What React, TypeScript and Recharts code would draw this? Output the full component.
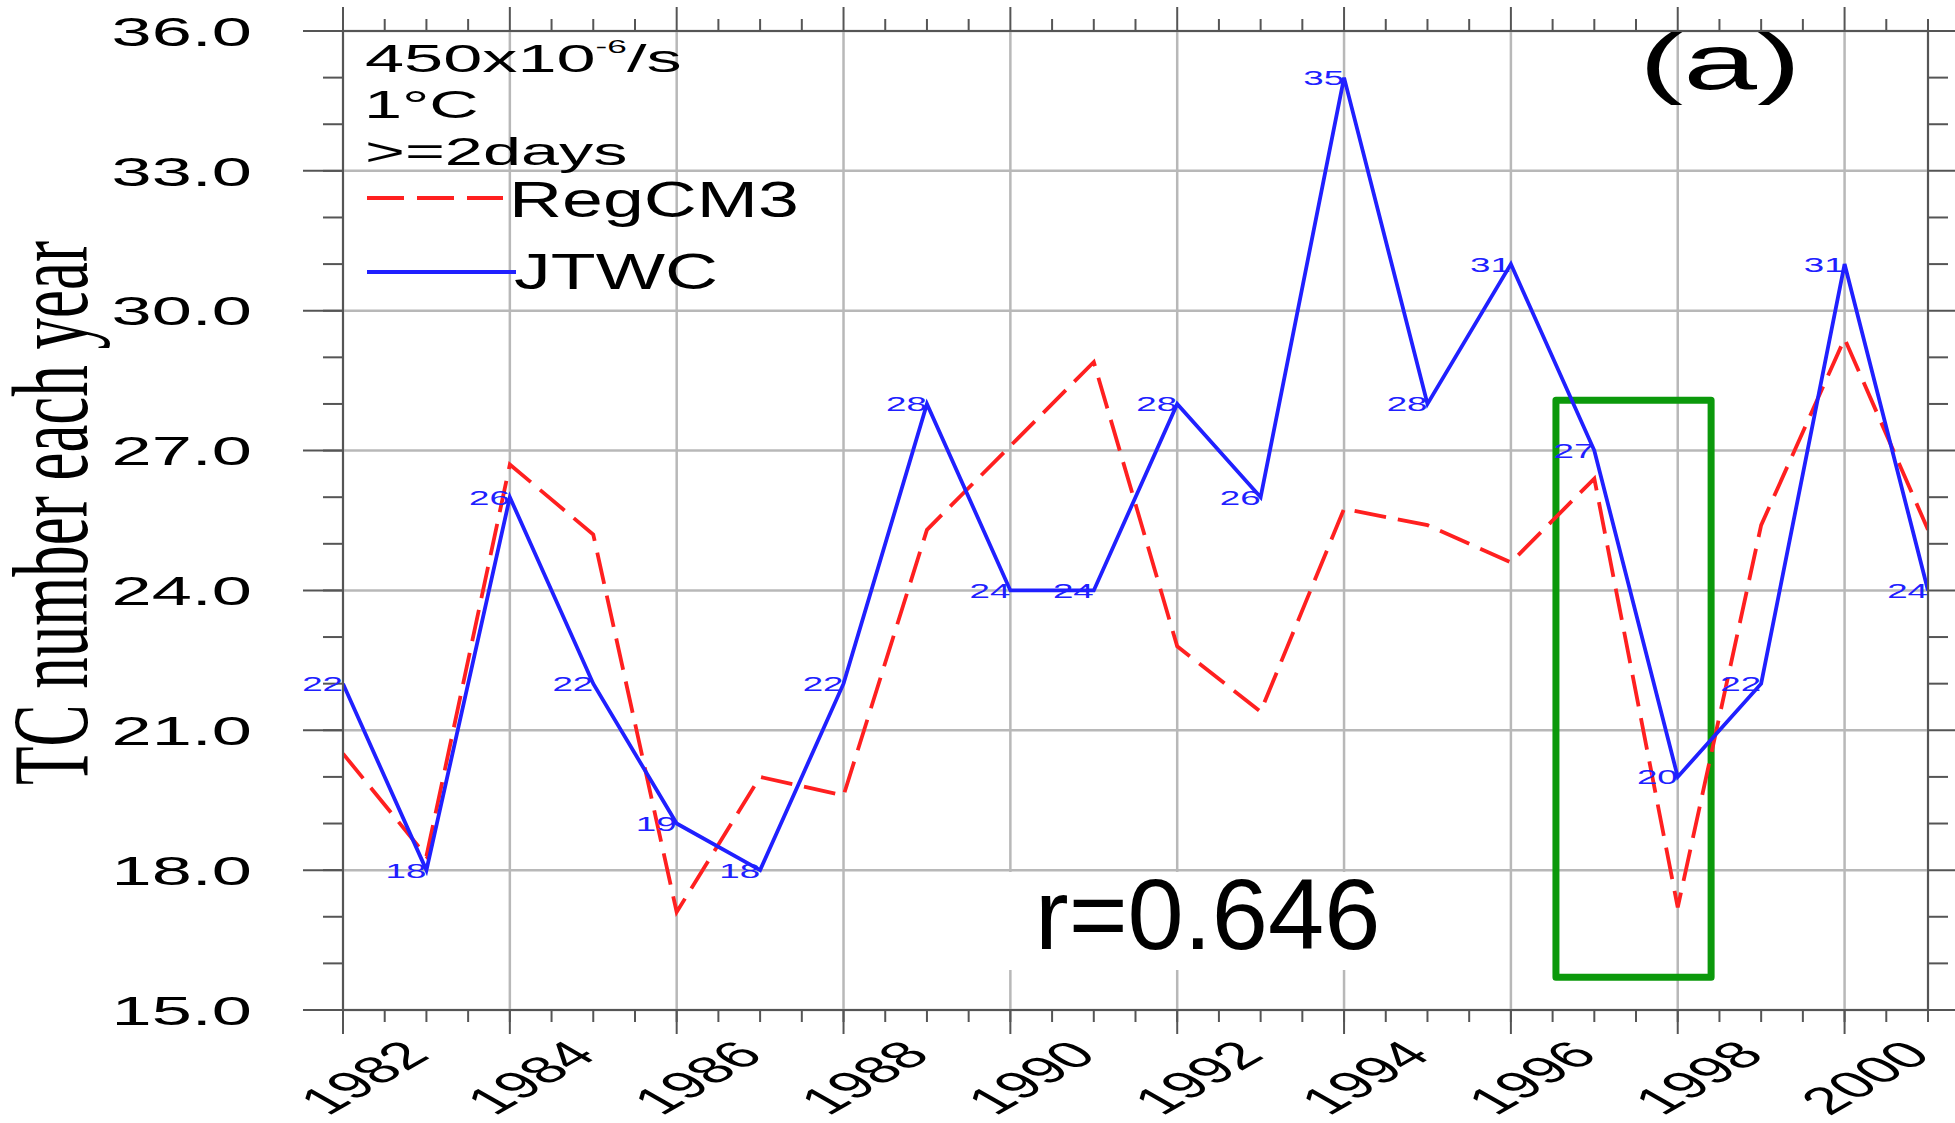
import React from "react";
import {
  LineChart,
  Line,
  XAxis,
  YAxis,
  CartesianGrid,
  ReferenceArea,
  LabelList,
} from "recharts";

// ---------- data ----------
const years = [
  1982, 1983, 1984, 1985, 1986, 1987, 1988, 1989, 1990, 1991,
  1992, 1993, 1994, 1995, 1996, 1997, 1998, 1999, 2000, 2001,
];
const jtwc = [22, 18, 26, 22, 19, 18, 22, 28, 24, 24, 28, 26, 35, 28, 31, 27, 20, 22, 31, 24];
const regcm3 = [
  20.5, 18.3, 26.7, 25.2, 17.1, 20.0, 19.6, 25.3, 27.1, 28.9,
  22.8, 21.4, 25.75, 25.4, 24.6, 26.4, 17.2, 25.4, 29.4, 25.3,
];

const xMajorTicks = [1982, 1984, 1986, 1988, 1990, 1992, 1994, 1996, 1998, 2000];
const xAllTicks = [
  1982, 1982.5, 1983, 1983.5, 1984, 1984.5, 1985, 1985.5, 1986, 1986.5,
  1987, 1987.5, 1988, 1988.5, 1989, 1989.5, 1990, 1990.5, 1991, 1991.5,
  1992, 1992.5, 1993, 1993.5, 1994, 1994.5, 1995, 1995.5, 1996, 1996.5,
  1997, 1997.5, 1998, 1998.5, 1999, 1999.5, 2000, 2000.5, 2001,
];
const yMajorTicks = [15, 18, 21, 24, 27, 30, 33, 36];
const yAllTicks = [
  15, 16, 17, 18, 19, 20, 21, 22, 23, 24, 25, 26, 27, 28, 29, 30, 31, 32, 33, 34, 35, 36,
];
const xDomain = [1982, 2001];
const yDomain = [15, 36];

// highlighted period box (years / values)
const boxYears = [1996.54, 1998.4];
const boxValues = [15.7, 28.08];

const seriesNames = ["RegCM3", "JTWC"];
const infoLines = ["1°C", ">=2days"];
const corrText = "r=0.646";
const panelText = "(a)";
const yTitle = "TC number each year";

const data = years.map((year, i) => ({ year, jtwc: jtwc[i], regcm3: regcm3[i] }));

// ---------- styles ----------
const AXIS = "#555555";
const GRID = "#b8b8b8";
const RED = "#ff2020";
const BLUE = "#2020ff";
const GREEN = "#0b990b";
const SANS = "'Liberation Sans', Arial, Helvetica, sans-serif";
const SERIF = "'Liberation Serif', 'Times New Roman', Times, serif";
const SX = 1.74;

const isXMajor = (v: number) => xMajorTicks.indexOf(v) >= 0;
const isYMajor = (v: number) => yMajorTicks.indexOf(v) >= 0;

function BottomMajorTick(props: any) {
  const { x, y, payload } = props;
  return (
    <g>
      <line x1={x} x2={x} y1={y} y2={y + 24} stroke={AXIS} strokeWidth={2} />
      <g transform={`translate(${x + 20},${y + 67}) scale(${SX},1) rotate(-45)`}>
        <text x={0} y={13.6} textAnchor="middle" fontSize={38} fontFamily={SANS} fill="#000">
          {payload.value}
        </text>
      </g>
    </g>
  );
}

function BottomMinorTick(props: any) {
  const { x, y } = props;
  return <line x1={x} x2={x} y1={y - 1} y2={y + 11} stroke={AXIS} strokeWidth={2} />;
}

function TopTick(props: any) {
  const { x, y, payload } = props;
  const len = isXMajor(payload.value) ? 24 : 12;
  return <line x1={x} x2={x} y1={y} y2={y - len} stroke={AXIS} strokeWidth={2} />;
}

function LeftMajorTick(props: any) {
  const { x, y, payload } = props;
  return (
    <g>
      <line x1={x - 40} x2={x} y1={y} y2={y} stroke={AXIS} strokeWidth={2} />
      <text
        transform={`translate(${x - 91},${y + 14.7}) scale(1.76,1)`}
        textAnchor="end"
        fontSize={41}
        fontFamily={SANS}
        fill="#000"
      >
        {Number(payload.value).toFixed(1)}
      </text>
    </g>
  );
}

function LeftMinorTick(props: any) {
  const { x, y } = props;
  return <line x1={x - 19} x2={x + 1} y1={y} y2={y} stroke={AXIS} strokeWidth={2} />;
}

function RightTick(props: any) {
  const { x, y, payload } = props;
  const len = isYMajor(payload.value) ? 40 : 20;
  return <line x1={x} x2={x + len} y1={y} y2={y} stroke={AXIS} strokeWidth={2} />;
}

function PointLabel(props: any) {
  const { x, y, value } = props;
  if (x == null || y == null) return null;
  return (
    <text
      transform={`translate(${x},${y + 7.5}) scale(1.75,1)`}
      textAnchor="end"
      fontSize={21}
      fontFamily={SANS}
      fill={BLUE}
    >
      {value}
    </text>
  );
}

export default function App() {
  return (
    <div
      style={{
        position: "absolute",
        left: 0,
        top: 0,
        width: 1955,
        height: 1123,
        background: "#fff",
        overflow: "hidden",
      }}
    >
      <LineChart
        width={1955}
        height={1123}
        data={data}
        margin={{ top: 30, right: 26, bottom: 111, left: 341 }}
      >
        <XAxis
          xAxisId="x"
          dataKey="year"
          type="number"
          domain={xDomain}
          allowDataOverflow
          ticks={xMajorTicks}
          interval={0}
          height={1}
          tickSize={0}
          tickMargin={0}
          tickLine={false}
          axisLine={{ stroke: AXIS, strokeWidth: 2 }}
          tick={(p: any) => <BottomMajorTick {...p} />}
        />
        <XAxis
          xAxisId="xminor"
          dataKey="year"
          type="number"
          domain={xDomain}
          allowDataOverflow
          ticks={xAllTicks}
          interval={0}
          height={1}
          tickSize={0}
          tickMargin={0}
          tickLine={false}
          axisLine={false}
          tick={(p: any) => <BottomMinorTick {...p} />}
        />
        <XAxis
          xAxisId="xtop"
          orientation="top"
          dataKey="year"
          type="number"
          domain={xDomain}
          allowDataOverflow
          ticks={xAllTicks}
          interval={0}
          height={1}
          tickSize={0}
          tickMargin={0}
          tickLine={false}
          axisLine={{ stroke: AXIS, strokeWidth: 2 }}
          tick={(p: any) => <TopTick {...p} />}
        />
        <YAxis
          yAxisId="y"
          type="number"
          domain={yDomain}
          allowDataOverflow
          ticks={yMajorTicks}
          interval={0}
          width={1}
          tickSize={0}
          tickMargin={0}
          tickLine={false}
          axisLine={{ stroke: AXIS, strokeWidth: 2 }}
          tick={(p: any) => <LeftMajorTick {...p} />}
        />
        <YAxis
          yAxisId="yminor"
          type="number"
          domain={yDomain}
          allowDataOverflow
          ticks={yAllTicks}
          interval={0}
          width={1}
          tickSize={0}
          tickMargin={0}
          tickLine={false}
          axisLine={false}
          tick={(p: any) => <LeftMinorTick {...p} />}
        />
        <YAxis
          yAxisId="yright"
          orientation="right"
          type="number"
          domain={yDomain}
          allowDataOverflow
          ticks={yAllTicks}
          interval={0}
          width={1}
          tickSize={0}
          tickMargin={0}
          tickLine={false}
          axisLine={{ stroke: AXIS, strokeWidth: 2 }}
          tick={(p: any) => <RightTick {...p} />}
        />
        <CartesianGrid xAxisId="x" yAxisId="y" stroke={GRID} strokeWidth={2.5} />
        <Line
          xAxisId="x"
          yAxisId="y"
          type="linear"
          dataKey="regcm3"
          name={seriesNames[0]}
          stroke={RED}
          strokeWidth={3.8}
          strokeDasharray="32 12"
          dot={false}
          activeDot={false}
          isAnimationActive={false}
        />
        <Line
          xAxisId="x"
          yAxisId="y"
          type="linear"
          dataKey="jtwc"
          name={seriesNames[1]}
          stroke={BLUE}
          strokeWidth={3.8}
          dot={false}
          activeDot={false}
          isAnimationActive={false}
        >
          <LabelList dataKey="jtwc" content={(p: any) => <PointLabel {...p} />} />
        </Line>
        <ReferenceArea
          xAxisId="x"
          yAxisId="y"
          x1={boxYears[0]}
          x2={boxYears[1]}
          y1={boxValues[0]}
          y2={boxValues[1]}
          fill="none"
          fillOpacity={0}
          stroke={GREEN}
          strokeWidth={7}
          strokeLinejoin="round"
          ifOverflow="visible"
        />
      </LineChart>

      <svg
        width={1955}
        height={1123}
        style={{ position: "absolute", left: 0, top: 0, pointerEvents: "none" }}
      >
        {/* y-axis title */}
        <text
          transform="translate(87,513) scale(1.72,1) rotate(-90)"
          textAnchor="middle"
          fontSize={63}
          fontFamily={SERIF}
          fill="#000"
        >
          {yTitle}
        </text>

        {/* info text */}
        <text transform="translate(365,71.7) scale(1.85,1)" fontSize={38} fontFamily={SANS} fill="#000">
          450x10
          <tspan fontSize={19} dy={-19}>-6</tspan>
          <tspan dy={19}>/s</tspan>
        </text>
        <text transform="translate(364,118.3) scale(1.8,1)" fontSize={38} fontFamily={SANS} fill="#000">
          {infoLines[0]}
        </text>
        <text transform="translate(365,165) scale(1.8,1)" fontSize={38} fontFamily={SANS} fill="#000">
          {infoLines[1]}
        </text>

        {/* legend */}
        <line x1={367} x2={503} y1={198} y2={198} stroke={RED} strokeWidth={3.8} strokeDasharray="37 13" />
        <text transform="translate(509,216.7) scale(1.47,1)" fontSize={50} fontFamily={SANS} fill="#000">
          {seriesNames[0]}
        </text>
        <line x1={367} x2={516} y1={272} y2={272} stroke={BLUE} strokeWidth={3.8} />
        <text transform="translate(514,289) scale(1.47,1)" fontSize={50} fontFamily={SANS} fill="#000">
          {seriesNames[1]}
        </text>

        {/* panel label */}
        <text transform="translate(1639,89) scale(1.7,1)" fontSize={78} fontFamily={SANS} fill="#000">
          {panelText}
        </text>

        {/* correlation */}
        <rect x={1006} y={872} width={381} height={98} fill="#fff" />
        <text x={1035} y={949} fontSize={101} fontFamily={SANS} fill="#000">
          {corrText}
        </text>
      </svg>
    </div>
  );
}
